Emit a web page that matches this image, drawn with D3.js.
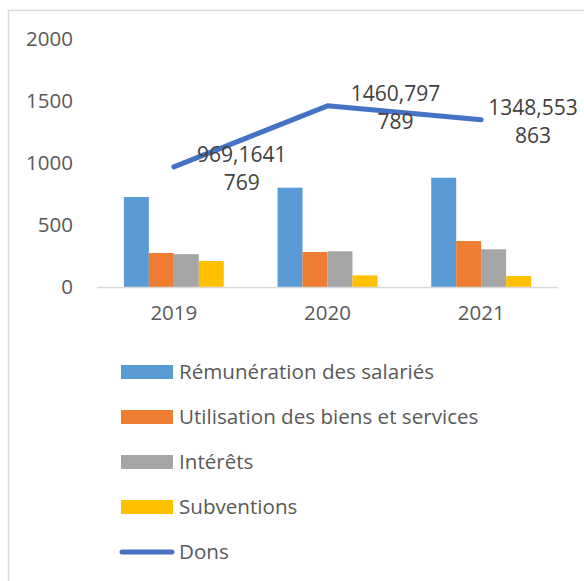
<!DOCTYPE html>
<html>
<head>
<meta charset="utf-8">
<script src="https://cdn.jsdelivr.net/npm/d3@7"></script>
<style>
  body { margin: 0; background: #fff; }
  text { font-family: "Open Sans", sans-serif; }
</style>
</head>
<body>
<svg id="chart" width="584" height="581"></svg>
<script>
// data
var years = ['2019', '2020', '2021'];
var barSeries = ['Rémunération des salariés', 'Utilisation des biens et services', 'Intérêts', 'Subventions'];
var remuneration = [726, 801, 881];
var utilisation = [274, 282, 371];
var interets = [265, 288, 304];
var subventions = [210, 94, 89];
var dons = [969.1641769, 1460.797789, 1348.553863];
var donsLabels = [['969,1641', '769'], ['1460,797', '789'], ['1348,553', '863']];
var yTicks = [0, 500, 1000, 1500, 2000];
var barColors = ['#5B9BD5', '#ED7D31', '#A5A5A5', '#FFC000'];
var lineColor = '#4472C4';

var svg = d3.select('#chart'),
  width = +svg.attr('width'),
  height = +svg.attr('height');

// chart frame (cut off at right and bottom like the picture)
svg.append('rect')
  .attr('x', 8.5).attr('y', 10.5)
  .attr('width', 700).attr('height', 700)
  .attr('fill', 'white')
  .attr('stroke', '#D9D9D9').attr('stroke-width', 1.5)

var plotLeft = 97, plotRight = 558, plotTop = 39, plotBottom = 287;

var x = d3.scaleBand().domain(years).range([plotLeft, plotRight]).paddingInner(0.35).paddingOuter(0.175);
var x1 = d3.scaleBand().domain(barSeries).range([0, x.bandwidth()]);
var y = d3.scaleLinear().domain([0, 2000]).range([plotBottom, plotTop]);

var barValues = [remuneration, utilisation, interets, subventions];

// y axis labels (no line, no ticks)
var yAxis = svg.append('g').attr('transform', 'translate(73,0)')
  .call(d3.axisLeft(y).tickValues(yTicks).tickSize(0).tickPadding(0).tickFormat(d3.format('d')));
yAxis.select('.domain').remove();
yAxis.selectAll('text').attr('font-size', 20.5).attr('fill', '#595959').attr('font-family', '"Open Sans", sans-serif');

// bars
svg.append('g').selectAll('g')
  .data(barSeries)
  .enter().append('g')
  .attr('fill', (d, i) => barColors[i])
  .selectAll('rect')
  .data((s, i) => barValues[i].map((v, j) => ({ s: s, year: years[j], v: v })))
  .enter().append('rect')
  .attr('x', d => x(d.year) + x1(d.s))
  .attr('width', x1.bandwidth())
  .attr('y', d => y(d.v))
  .attr('height', d => y(0) - y(d.v))

// baseline
svg.append('line')
  .attr('x1', plotLeft).attr('x2', plotRight)
  .attr('y1', y(0) + 0.5).attr('y2', y(0) + 0.5)
  .attr('stroke', '#D9D9D9').attr('stroke-width', 1.5)

// x axis labels
var xAxis = svg.append('g').attr('transform', 'translate(0,' + (y(0) + 18) + ')')
  .call(d3.axisBottom(x).tickSize(0).tickPadding(0));
xAxis.select('.domain').remove();
xAxis.selectAll('text').attr('font-size', 20.5).attr('fill', '#595959').attr('font-family', '"Open Sans", sans-serif');

// Dons line
var line = d3.line()
  .x((d, i) => x(years[i]) + x.bandwidth() / 2)
  .y(d => y(d));

svg.append('path')
  .datum(dons)
  .attr('d', line)
  .attr('fill', 'none')
  .attr('stroke', lineColor)
  .attr('stroke-width', 5)
  .attr('stroke-linecap', 'round')
  .attr('stroke-linejoin', 'round')

// data labels
var lbl = svg.append('g').selectAll('text')
  .data(dons)
  .enter().append('text')
  .attr('text-anchor', 'middle')
  .attr('font-size', 21)
  .attr('fill', '#404040')
  .attr('transform', (d, i) => {
    var cx = Math.min(x(years[i]) + x.bandwidth() / 2 + 68, 533);
    return 'translate(' + cx + ',' + (y(d) - 5) + ')';
  })
lbl.selectAll('tspan')
  .data((d, i) => donsLabels[i])
  .enter().append('tspan')
  .attr('x', 0)
  .attr('y', (d, i) => i * 28)
  .text(d => d)

// legend
var legendItems = barSeries.concat(['Dons']);
var legend = svg.append('g').selectAll('g')
  .data(legendItems)
  .enter().append('g')
  .attr('transform', (d, i) => 'translate(121,' + (372 + i * 45) + ')')

legend.filter((d, i) => i < 4).append('rect')
  .attr('x', 0).attr('y', -7)
  .attr('width', 52).attr('height', 14)
  .attr('fill', (d, i) => barColors[i])

legend.filter((d, i) => i == 4).append('line')
  .attr('x1', 1).attr('x2', 51)
  .attr('y1', 0).attr('y2', 0)
  .attr('stroke', lineColor).attr('stroke-width', 5).attr('stroke-linecap', 'round')

legend.append('text')
  .attr('x', 58).attr('y', 0)
  .attr('dy', '0.35em')
  .attr('font-size', 20.6)
  .attr('fill', '#595959')
  .text(d => d)
</script>
</body>
</html>
